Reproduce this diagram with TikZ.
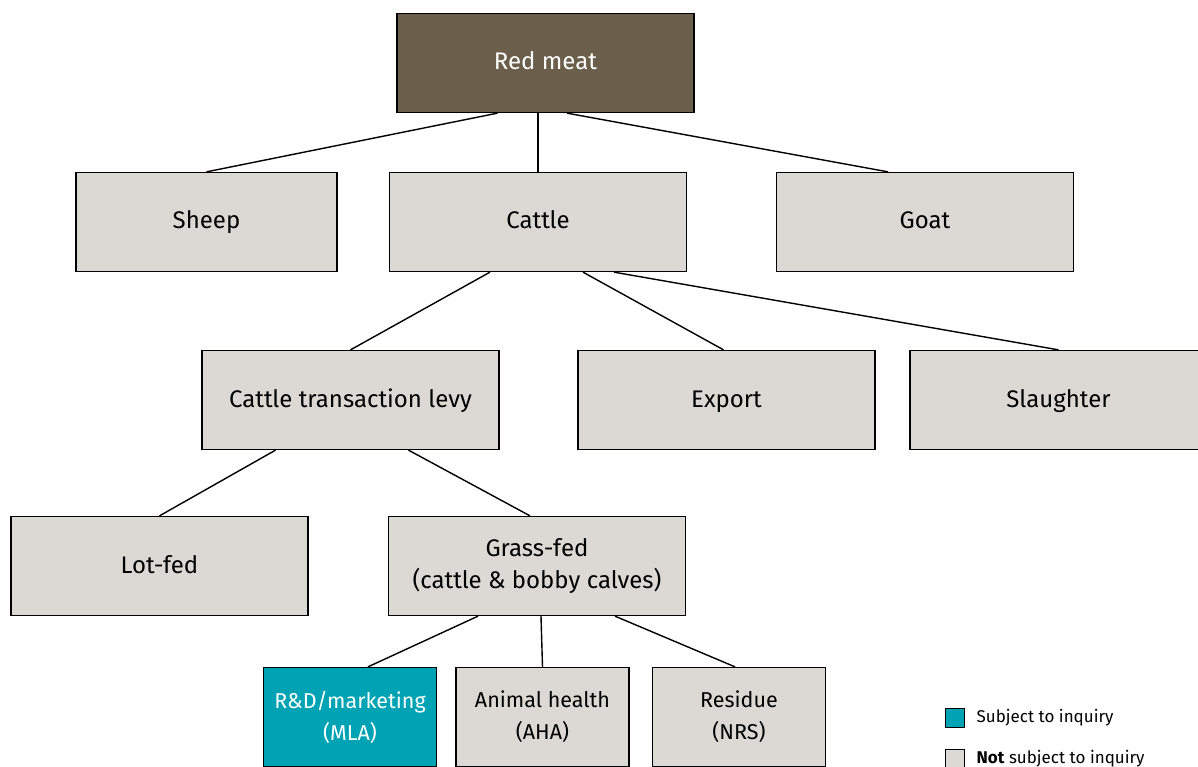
\documentclass[tikz,border=0pt]{standalone}
\usepackage{fontspec}
\setmainfont{Fira Sans}
\usetikzlibrary{positioning}

\definecolor{meatbrown}{HTML}{6B5E4B}
\definecolor{boxgrey}{HTML}{DCD9D4}
\definecolor{inquiryteal}{HTML}{00A3B4}

\begin{document}
\begin{tikzpicture}[x=1pt, y=-1pt,
    box/.style={rectangle, draw, line width=1.3pt, fill=boxgrey, minimum width=297pt, minimum height=99pt, align=center, font=\fontsize{24}{32}\selectfont},
    onebox/.style={box, text height=19pt, text depth=5pt},
    smallbox/.style={box, minimum width=173pt, font=\fontsize{21.5}{32}\selectfont},
    link/.style={line width=1.4pt},
    legendbox/.style={rectangle, draw, line width=1.1pt, minimum size=19pt}]
    \useasboundingbox (0,0) rectangle (1198,767);

    % Draw nodes
    \node[onebox, fill=meatbrown, text=white] (redmeat) at (545.5,63) {Red meat};
    \node[onebox, minimum width=261pt] (sheep) at (206.5,222) {Sheep};
    \node[onebox] (cattle) at (538,222) {Cattle};
    \node[onebox] (goat) at (925,222) {Goat};
    \node[onebox] (levy) at (350.5,400) {Cattle transaction levy};
    \node[onebox] (export) at (726.5,400) {Export};
    \node[onebox] (slaughter) at (1058.5,400) {Slaughter};
    \node[onebox] (lotfed) at (159.5,566) {Lot-fed};
    \node[box] (grassfed) at (537,566) {Grass-fed\\(cattle \& bobby calves)};
    \node[smallbox, fill=inquiryteal, text=white] (mla) at (350,717) {R\&D/marketing\\(MLA)};
    \node[smallbox] (aha) at (542.5,717) {Animal health\\(AHA)};
    \node[smallbox] (nrs) at (739,717) {Residue\\(NRS)};

    % Draw connections
    \draw[link] ([xshift=-48pt]redmeat.south) -- (sheep.north);
    \draw[link] ([xshift=-7.5pt]redmeat.south) -- (cattle.north);
    \draw[link] ([xshift=21.5pt]redmeat.south) -- ([xshift=-37pt]goat.north);
    \draw[link] ([xshift=-48pt]cattle.south) -- (levy.north);
    \draw[link] ([xshift=45pt]cattle.south) -- ([xshift=-3pt]export.north);
    \draw[link] ([xshift=76pt]cattle.south) -- (slaughter.north);
    \draw[link] ([xshift=-75pt]levy.south) -- (lotfed.north);
    \draw[link] ([xshift=58pt]levy.south) -- ([xshift=-7pt]grassfed.north);
    \draw[link] ([xshift=-59pt]grassfed.south) -- ([xshift=18pt]mla.north);
    \draw[link] ([xshift=4pt]grassfed.south) -- (aha.north);
    \draw[link] ([xshift=78pt]grassfed.south) -- ([xshift=-4pt]nrs.north);

    % Legend
    \node[legendbox, fill=inquiryteal] (keyin) at (955,718) {};
    \node[right=8pt of keyin, font=\fontsize{17}{20}\selectfont] (keyintext) {Subject to inquiry};
    \node[legendbox, fill=boxgrey] (keyout) at (955,759) {};
    \node[right=8pt of keyout, font=\fontsize{17}{20}\selectfont] (keyouttext) {\textbf{Not} subject to inquiry};
\end{tikzpicture}
\end{document}
